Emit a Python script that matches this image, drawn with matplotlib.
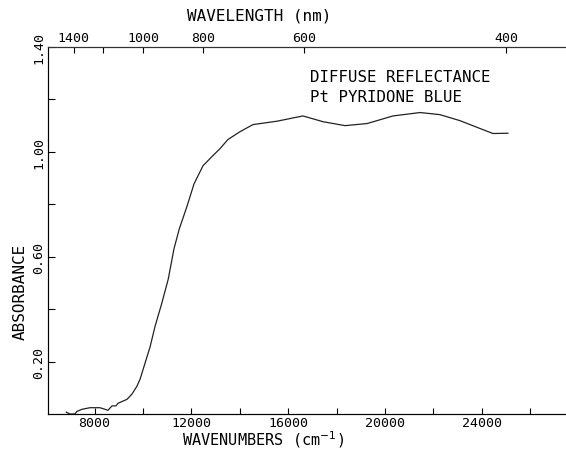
import matplotlib
matplotlib.use("Agg")
import matplotlib.pyplot as plt

# Data (wavenumber cm^-1, absorbance)
wavenumber = [6830, 6980, 7190, 7270, 7480, 7810, 8220, 8430, 8550, 8720, 8880, 8970,
              9340, 9545, 9750, 9880, 10290, 10500, 10770, 11045, 11280, 11500, 11810,
              12110, 12480, 12850, 13180, 13510, 14010, 14545, 15540, 16610, 17440,
              18350, 19260, 20330, 21450, 22270, 23100, 23930, 24460, 25080]
absorbance = [0.007, 0.0, 0.0, 0.010, 0.018, 0.024, 0.024, 0.018, 0.014, 0.031, 0.031, 0.041,
              0.056, 0.076, 0.106, 0.133, 0.255, 0.335, 0.420, 0.515, 0.630, 0.706, 0.790,
              0.878, 0.947, 0.982, 1.012, 1.047, 1.077, 1.104, 1.117, 1.137, 1.115,
              1.100, 1.108, 1.137, 1.150, 1.142, 1.119, 1.089, 1.070, 1.071]

bottom_ticks = [8000, 10000, 12000, 14000, 16000, 18000, 20000, 22000, 24000, 26000]
bottom_labels = ["8000", "", "12000", "", "16000", "", "20000", "", "24000", ""]
top_nm = [1400, 1200, 1000, 800, 600, 400]
top_labels = ["1400", "", "1000", "800", "600", "400"]
y_ticks = [0.2, 0.4, 0.6, 0.8, 1.0, 1.2, 1.4]
y_labels = ["0.20", "", "0.60", "", "1.00", "", "1.40"]

mono = "DejaVu Sans Mono"
W, H = 566, 452
fig = plt.figure(figsize=(W / 100, H / 100), dpi=100)
left, right, top, bottom = 48, 566, 48, 415
ax = fig.add_axes([left / W, 1 - bottom / H, (right - left) / W, (bottom - top) / H])

ax.plot(wavenumber, absorbance, color="#222222", lw=0.9)
ax.set_xlim(6075, 27480)
ax.set_ylim(0, 1.40)

ax.spines["right"].set_visible(False)
for s in ["left", "bottom", "top"]:
    ax.spines[s].set_linewidth(0.8)
    ax.spines[s].set_color("#333333")

ax.set_xticks(bottom_ticks)
ax.set_xticklabels(bottom_labels, family=mono, fontsize=9.5)
ax.set_yticks(y_ticks)
ax.set_yticklabels(y_labels, family=mono, fontsize=9.5, rotation=90, va="center")
ax.tick_params(axis="x", direction="in", length=4, width=0.8, pad=1.5)
ax.tick_params(axis="y", direction="in", length=5, width=0.8, pad=2, right=False)

ax2 = ax.twiny()
ax2.set_xlim(ax.get_xlim())
ax2.spines["right"].set_visible(False)
ax2.spines["top"].set_linewidth(0.8)
ax2.spines["top"].set_color("#333333")
ax2.set_xticks([1e7 / v for v in top_nm])
ax2.set_xticklabels(top_labels, family=mono, fontsize=9.5)
ax2.tick_params(axis="x", direction="in", length=4, width=0.8, pad=2)

fig.text(259 / W, 1 - 16 / H, "WAVELENGTH (nm)", family=mono, fontsize=11.5,
         ha="center", va="center")
fig.text(263 / W, 1 - 440 / H, "WAVENUMBERS (cm$^{-1}$)", family=mono, fontsize=11,
         ha="center", va="center")
fig.text(20 / W, 1 - 292 / H, "ABSORBANCE", family=mono, fontsize=11.5,
         ha="center", va="center", rotation=90)
fig.text(310 / W, 1 - 77 / H, "DIFFUSE REFLECTANCE", family=mono, fontsize=11.3,
         ha="left", va="center")
fig.text(310 / W, 1 - 98 / H, "Pt PYRIDONE BLUE", family=mono, fontsize=11.3,
         ha="left", va="center")

fig.savefig("out.png", dpi=100)
